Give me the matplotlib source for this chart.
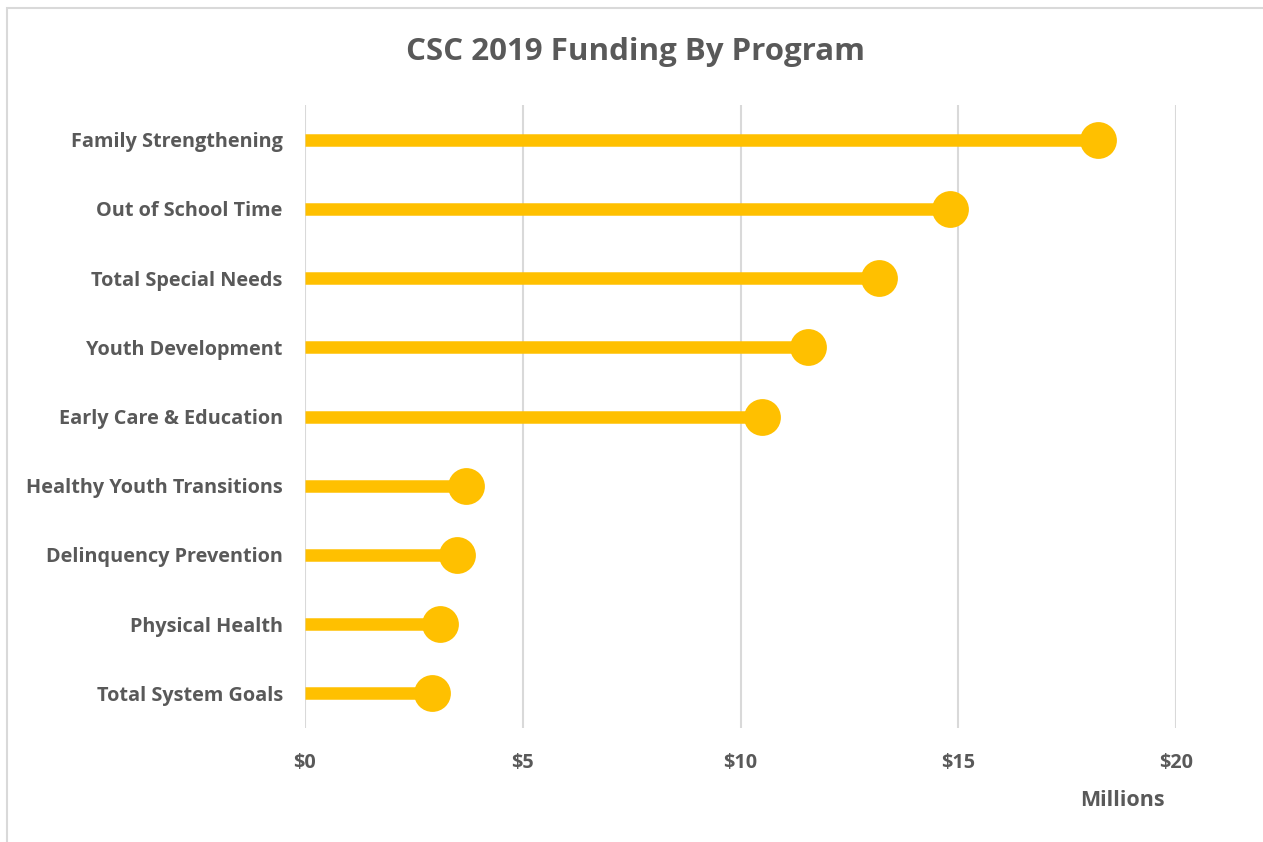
import matplotlib
matplotlib.use("Agg")
import matplotlib.pyplot as plt
from matplotlib.patches import Rectangle

categories = ["Family Strengthening", "Out of School Time", "Total Special Needs",
              "Youth Development", "Early Care & Education", "Healthy Youth Transitions",
              "Delinquency Prevention", "Physical Health", "Total System Goals"]
values = [18.21, 14.81, 13.18, 11.55, 10.49, 3.70, 3.49, 3.10, 2.92]
xticks = [0, 5, 10, 15, 20]
xtick_labels = ["$0", "$5", "$10", "$15", "$20"]

GOLD = "#FFC000"
TXT = "#595959"
FONT = ["Open Sans", "DejaVu Sans"]

fig = plt.figure(figsize=(12.63, 8.42), dpi=100)
fig.patches.append(Rectangle((7/1263, -0.01), 1.1, 1 - 8/842 + 0.01, transform=fig.transFigure,
                             fill=False, edgecolor="#D9D9D9", linewidth=1.5))
ax = fig.add_axes([305/1263, 1 - 728/842, (1176 - 305)/1263, (728 - 105)/842])

n = len(categories)
ys = [n - 1 - i for i in range(n)]
for y, v in zip(ys, values):
    ax.plot([0, v], [y, y], color=GOLD, linewidth=9, solid_capstyle="butt", zorder=3)
ax.scatter(values, ys, s=26.5**2, color=GOLD, zorder=4, linewidths=0)

ax.set_xlim(0, 20)
ax.set_ylim(-0.5, n - 0.5)
ax.set_xticks(xticks)
ax.set_xticklabels(xtick_labels)
ax.set_yticks(ys)
ax.set_yticklabels(categories)
for lab in ax.get_xticklabels() + ax.get_yticklabels():
    lab.set_fontfamily(FONT)
    lab.set_fontweight("bold")
    lab.set_color(TXT)
    lab.set_fontsize(14.3)
ax.tick_params(axis="both", length=0)
ax.tick_params(axis="x", pad=18)
ax.tick_params(axis="y", pad=16)
ax.grid(axis="x", color="#D9D9D9", linewidth=1.5, zorder=0)
ax.set_axisbelow(True)
for s in ax.spines.values():
    s.set_visible(False)

fig.text(1122/1263, 1 - 800/842, "Millions", ha="center", va="center",
         fontsize=15.5, fontweight="bold", color=TXT, family=FONT)
fig.text(636/1263, 1 - 52/842, "CSC 2019 Funding By Program", ha="center", va="center",
         fontsize=22.5, fontweight="bold", color=TXT, family=FONT)

fig.savefig("out.png", dpi=100)
